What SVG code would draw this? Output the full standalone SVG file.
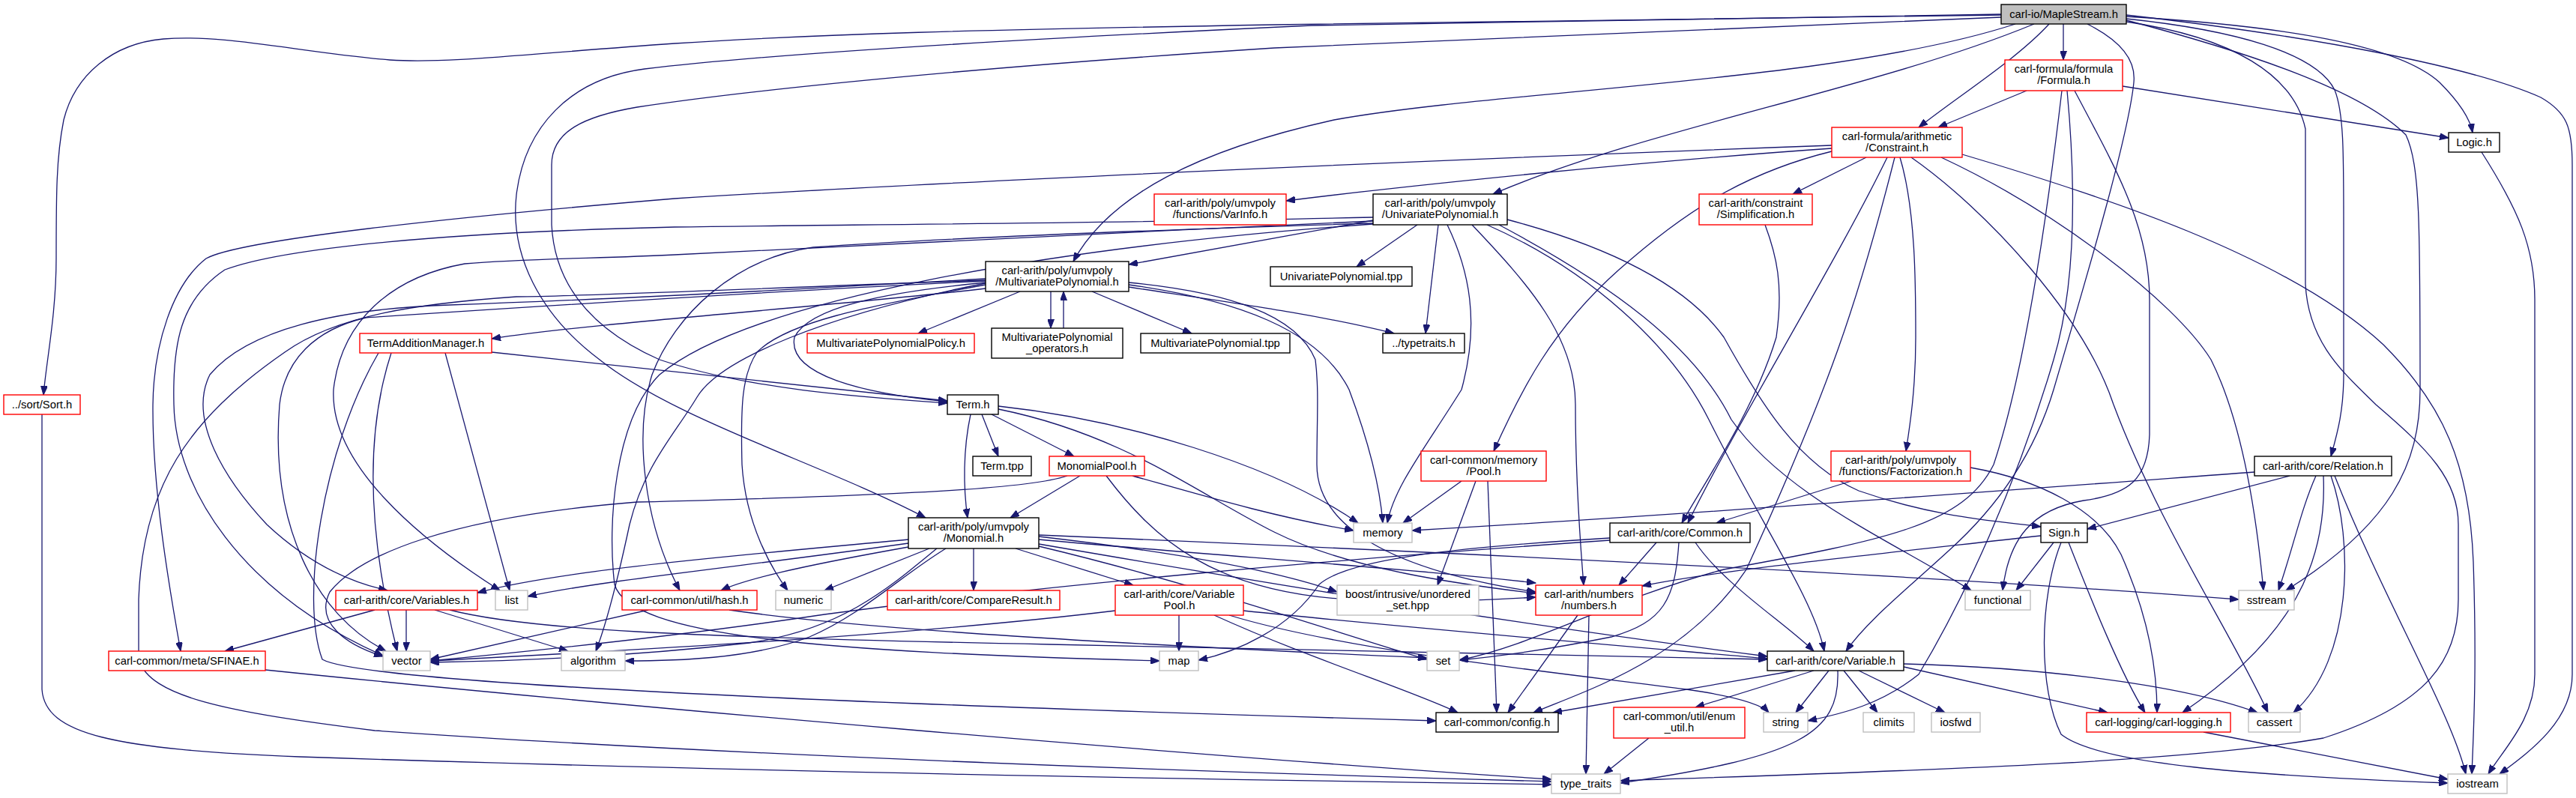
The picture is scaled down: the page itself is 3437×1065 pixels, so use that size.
<svg xmlns="http://www.w3.org/2000/svg" width="3437" height="1065" viewBox="0 0 3437 1065">
<style>
.bg{fill:#ffffff}
.e path{fill:none;stroke:#191970;stroke-width:1.3;marker-end:url(#arr)}
.n rect{fill:#ffffff;stroke-width:1.4}
.n.red rect{stroke:#ff0000}
.n.blk rect{stroke:#000000}
.n.gry rect{stroke:#bfbfbf}
.n.root rect{fill:#bfbfbf;stroke:#000000}
.n text{font-family:"Liberation Sans",Arial,sans-serif;font-size:14.8px;fill:#000000;text-anchor:middle}
</style>
<defs>
<marker id="arr" markerUnits="userSpaceOnUse" markerWidth="13" markerHeight="9" refX="12" refY="4.5" orient="auto">
<path d="M0,0 L12,4.5 L0,9 z" fill="#191970" stroke="#191970" stroke-width="1"/>
</marker>
</defs>
<rect class="bg" x="0" y="0" width="3437" height="1065"/>
<g id="connectors" class="e">
<path d="M2753,32 L2753,80"/>
<path d="M2734,32 C2690,80 2610,130 2560,170"/>
<path d="M2837,22 C3050,35 3200,60 3255,110 C3285,140 3296,160 3299,177"/>
<path d="M2832,115 L3267,184"/>
<path d="M2704,121 L2586,170"/>
<path d="M2714,32 C2500,120 2200,170 1992,259"/>
<path d="M2689,32 C2450,110 2000,120 1780,160 C1600,200 1480,260 1432,349"/>
<path d="M2670,20 L1700,33 C1300,40 1100,45 900,58 C700,72 600,85 520,80 C400,70 300,45 218,52 C150,58 100,100 85,160 C75,210 75,260 75,344 C75,420 62,480 58,527"/>
<path d="M2670,23 C2200,40 1900,55 1700,64 C1300,90 1000,120 850,143 C780,155 736,175 736,220 L736,300 C740,380 790,440 880,480 C1000,520 1150,530 1264,538"/>
<path d="M2670,19 L1750,34 C1300,55 1000,75 860,92 C760,105 700,170 689,260 C680,340 720,420 800,480 C900,560 1100,620 1235,691"/>
<path d="M2837,25 C2980,40 3090,70 3115,120 C3127,150 3127,200 3127,300 L3127,500 C3127,550 3118,580 3110,609"/>
<path d="M2837,27 C3000,70 3150,120 3210,180 C3229,220 3229,300 3229,520 C3229,620 3190,700 3050,788"/>
<path d="M2837,29 C2980,50 3060,100 3076,172 L3076,379 C3080,460 3130,500 3170,540 C3240,600 3280,640 3280,700 L3280,800 C3280,880 3240,940 3100,985 C2900,1020 2500,1030 2162,1042"/>
<path d="M2837,20 C3100,50 3300,90 3390,130 C3425,150 3432,170 3432,220 L3432,900 C3432,960 3380,1000 3335,1033"/>
<path d="M2785,32 C2830,55 2850,80 2847,110 C2840,180 2790,350 2740,520 C2710,620 2650,690 2600,735 C2540,790 2490,830 2463,869"/>
<path d="M2768,121 C2820,220 2868,300 2868,400 L2868,580 C2866,640 2840,660 2780,668 C2710,680 2680,720 2672,788"/>
<path d="M2751,121 C2730,300 2700,500 2660,620 C2620,700 2520,720 2300,760 C2150,800 2050,860 1947,881"/>
<path d="M2758,121 C2770,250 2770,380 2740,480 C2690,650 2620,800 2560,900 C2510,940 2460,952 2412,962"/>
<path d="M3311,203 C3360,280 3382,330 3382,400 L3382,900 C3382,960 3340,1000 3320,1033"/>
<path d="M2444,198 C2200,215 1900,245 1716,268"/>
<path d="M2444,194 C2000,210 1300,240 900,265 C600,290 320,320 275,345 C230,380 205,460 204,540 C203,650 225,780 241,869"/>
<path d="M2444,202 C2330,230 2250,280 2160,360 C2070,440 2030,520 1993,602"/>
<path d="M2490,210 L2392,259"/>
<path d="M2518,210 C2450,350 2320,560 2252,698"/>
<path d="M2528,210 C2480,400 2440,520 2330,760 C2250,880 2120,920 2046,951"/>
<path d="M2535,210 C2556,280 2556,380 2556,450 C2556,520 2548,570 2543,602"/>
<path d="M2550,210 C2650,280 2780,420 2820,540 C2880,700 2980,850 3026,951"/>
<path d="M2590,210 C2740,280 2900,400 2950,480 C2990,560 3010,680 3020,788"/>
<path d="M2618,206 C2800,260 3050,340 3180,460 C3260,540 3295,620 3300,750 C3305,900 3300,980 3298,1033"/>
<path d="M2355,300 C2370,340 2380,380 2370,450 C2340,550 2270,650 2244,698"/>
<path d="M2470,642 L2290,698"/>
<path d="M2629,624 C2720,640 2800,680 2830,740 C2870,830 2878,900 2878,951"/>
<path d="M1832,294 L1506,353"/>
<path d="M1891,300 L1810,356"/>
<path d="M1919,300 L1902,445"/>
<path d="M1931,300 C1960,360 1975,430 1950,520 C1900,600 1860,650 1851,698"/>
<path d="M1964,300 C2040,380 2102,450 2102,540 C2102,640 2108,720 2113,781"/>
<path d="M1984,300 C2120,360 2230,460 2280,560 C2350,700 2420,800 2434,869"/>
<path d="M2011,293 C2150,330 2250,380 2300,450 C2350,540 2400,620 2480,655 C2580,690 2660,695 2723,703"/>
<path d="M2000,300 C2150,380 2260,460 2310,560 C2380,660 2520,720 2630,788"/>
<path d="M1832,290 C1500,298 1100,300 900,303 C600,310 380,330 300,360 C240,400 230,460 232,540 C234,650 320,790 511,875"/>
<path d="M1832,295 C1500,310 1100,330 900,340 C800,345 700,345 620,352 C520,370 455,430 445,520 C440,620 560,720 667,788"/>
<path d="M1832,298 C1600,305 1300,315 1085,330 C980,345 900,420 870,500 C845,580 860,700 907,788"/>
<path d="M1832,299 C1400,330 1000,400 880,500 C820,560 810,700 820,780 C840,850 1100,870 1547,882"/>
<path d="M1315,385 C1100,410 800,430 656,452"/>
<path d="M1361,389 L1225,445"/>
<path d="M1402,389 L1402,438"/>
<path d="M1419,438 L1419,389"/>
<path d="M1457,389 L1590,445"/>
<path d="M1506,383 C1650,405 1760,420 1860,445"/>
<path d="M1315,377 C1180,390 1080,410 1060,450 C1050,500 1150,525 1264,536"/>
<path d="M1506,380 C1650,400 1760,440 1800,520 C1830,600 1842,660 1845,698"/>
<path d="M1506,377 C1640,390 1730,420 1755,480 C1760,520 1757,560 1757,620 C1757,700 1850,760 2049,790"/>
<path d="M1315,380 C1150,410 1050,430 1010,470 C990,500 988,540 990,620 C995,700 1030,760 1051,788"/>
<path d="M1315,378 C1100,420 960,480 930,530 C900,580 860,620 840,700 C825,770 810,830 795,869"/>
<path d="M1315,372 C1000,390 800,400 600,407 C450,412 330,440 280,500 C250,560 300,640 356,700 C420,760 480,780 517,788"/>
<path d="M1315,375 C1000,390 700,410 488,424 C420,440 380,480 373,540 C360,700 420,820 515,869"/>
<path d="M1315,374 C1000,385 800,395 689,396 C560,405 450,420 380,470 C250,560 190,650 185,800 L185,880 C200,930 300,950 500,975 C1000,1010 1600,1030 2070,1043"/>
<path d="M1310,553 L1332,609"/>
<path d="M1323,553 L1433,609"/>
<path d="M1295,553 C1285,600 1285,650 1291,691"/>
<path d="M1332,542 C1500,560 1700,620 1812,698"/>
<path d="M1332,546 C1500,580 1600,660 1700,710 C1800,760 1950,780 2049,792"/>
<path d="M1441,635 L1348,691"/>
<path d="M1511,635 C1600,660 1700,690 1806,708"/>
<path d="M1476,635 C1540,720 1620,790 1800,800 C1900,806 2000,800 2049,797"/>
<path d="M1424,635 C1380,650 1250,660 850,670 C600,690 480,740 440,790 C420,830 460,860 511,876"/>
<path d="M1950,642 L1872,698"/>
<path d="M1969,642 L1918,781"/>
<path d="M1985,642 L1997,951"/>
<path d="M3008,630 C2600,660 2200,690 1884,708"/>
<path d="M3055,635 L2785,706"/>
<path d="M3090,635 C3070,680 3060,730 3040,788"/>
<path d="M3100,635 C3105,750 3060,850 2912,951"/>
<path d="M3110,635 C3140,720 3140,880 3060,951"/>
<path d="M3115,635 C3180,800 3270,950 3290,1033"/>
<path d="M1212,720 C1000,740 750,760 637,791"/>
<path d="M1212,725 C1000,755 800,775 704,796"/>
<path d="M1212,730 C1100,750 1000,770 962,788"/>
<path d="M1240,732 L1100,788"/>
<path d="M1262,732 C1200,770 1150,820 1080,850 C1000,880 900,882 834,882"/>
<path d="M1299,732 L1299,788"/>
<path d="M1355,732 L1512,781"/>
<path d="M1386,716 C1550,735 1700,760 1784,790"/>
<path d="M1386,720 C1600,740 1900,760 2049,778"/>
<path d="M1386,714 C2000,740 2600,770 2987,800"/>
<path d="M1386,726 C1700,780 2000,830 2358,876"/>
<path d="M1386,729 C1600,780 1800,850 1904,880"/>
<path d="M1250,732 C1180,790 1120,840 1000,858 C850,875 700,882 574,884"/>
<path d="M500,814 L300,869"/>
<path d="M542,814 L542,869"/>
<path d="M580,814 L758,869"/>
<path d="M600,814 C700,840 900,850 1400,860 C1900,870 2200,875 2358,880"/>
<path d="M865,814 L574,880"/>
<path d="M973,814 C1150,840 1500,860 1904,878"/>
<path d="M1573,821 L1573,869"/>
<path d="M1488,815 C1200,850 800,870 574,882"/>
<path d="M1620,821 C1750,880 1880,920 1945,951"/>
<path d="M1659,815 C1900,840 2200,865 2358,879"/>
<path d="M1640,821 C1800,870 2100,900 2250,920 C2320,930 2350,940 2360,951"/>
<path d="M2210,724 L2160,781"/>
<path d="M2262,724 C2300,780 2380,830 2420,869"/>
<path d="M2240,724 C2235,800 2220,830 2150,850 C2050,870 1980,878 1947,881"/>
<path d="M2148,718 C1950,730 1800,745 1760,780 C1720,840 1650,870 1599,881"/>
<path d="M2148,721 C1800,745 1400,780 1100,820 C900,850 700,870 574,882"/>
<path d="M2740,724 L2690,788"/>
<path d="M2723,715 C2500,740 2300,760 2191,782"/>
<path d="M2760,724 C2790,800 2830,900 2862,951"/>
<path d="M2750,724 C2720,800 2720,920 2750,980 C2800,1020 3000,1035 3266,1045"/>
<path d="M2105,821 L2012,951"/>
<path d="M2120,821 L2116,1033"/>
<path d="M2420,895 L2262,944"/>
<path d="M2440,895 L2396,951"/>
<path d="M2460,895 L2505,951"/>
<path d="M2480,895 L2595,951"/>
<path d="M2540,890 L2812,951"/>
<path d="M2540,886 C2700,890 2900,910 3012,951"/>
<path d="M2395,895 L2072,951"/>
<path d="M2452,895 C2455,980 2400,1010 2162,1045"/>
<path d="M2200,985 L2140,1033"/>
<path d="M2940,977 L3266,1040"/>
<path d="M354,894 C800,940 1600,1010 2070,1040"/>
<path d="M56,553 L56,920 C60,980 150,1000 400,1010 C1000,1030 1600,1040 2070,1047"/>
<path d="M656,470 L1264,535"/>
<path d="M594,471 L680,788"/>
<path d="M522,471 C480,600 500,750 530,869"/>
<path d="M505,471 C430,600 400,800 430,880 C500,920 1500,950 1916,962"/>
</g>
<g id="node-maple" class="n root"><rect x="2670" y="6" width="167" height="26"/><text x="2753.5" y="24">carl-io/MapleStream.h</text></g>
<g id="node-formula" class="n red"><rect x="2675" y="80" width="157" height="41"/><text x="2753.5" y="97">carl-formula/formula</text><text x="2753.5" y="112">/Formula.h</text></g>
<g id="node-constraint" class="n red"><rect x="2444" y="170" width="174" height="40"/><text x="2531" y="187">carl-formula/arithmetic</text><text x="2531" y="202">/Constraint.h</text></g>
<g id="node-logic" class="n blk"><rect x="3267" y="177" width="68" height="26"/><text x="3301" y="195">Logic.h</text></g>
<g id="node-varinfo" class="n red"><rect x="1540" y="259" width="176" height="41"/><text x="1628" y="276">carl-arith/poly/umvpoly</text><text x="1628" y="291">/functions/VarInfo.h</text></g>
<g id="node-upoly" class="n blk"><rect x="1832" y="259" width="179" height="41"/><text x="1921.5" y="276">carl-arith/poly/umvpoly</text><text x="1921.5" y="291">/UnivariatePolynomial.h</text></g>
<g id="node-simpl" class="n red"><rect x="2267" y="259" width="151" height="41"/><text x="2342.5" y="276">carl-arith/constraint</text><text x="2342.5" y="291">/Simplification.h</text></g>
<g id="node-mpoly" class="n blk"><rect x="1315" y="349" width="191" height="40"/><text x="1410.5" y="366">carl-arith/poly/umvpoly</text><text x="1410.5" y="381">/MultivariatePolynomial.h</text></g>
<g id="node-uptpp" class="n blk"><rect x="1695" y="356" width="189" height="26"/><text x="1789.5" y="374">UnivariatePolynomial.tpp</text></g>
<g id="node-tam" class="n red"><rect x="480" y="445" width="176" height="26"/><text x="568" y="463">TermAdditionManager.h</text></g>
<g id="node-mppolicy" class="n red"><rect x="1077" y="445" width="223" height="26"/><text x="1188.5" y="463">MultivariatePolynomialPolicy.h</text></g>
<g id="node-mpops" class="n blk"><rect x="1323" y="438" width="175" height="40"/><text x="1410.5" y="455">MultivariatePolynomial</text><text x="1410.5" y="470">_operators.h</text></g>
<g id="node-mptpp" class="n blk"><rect x="1522" y="445" width="199" height="26"/><text x="1621.5" y="463">MultivariatePolynomial.tpp</text></g>
<g id="node-typetraits" class="n blk"><rect x="1845" y="445" width="109" height="26"/><text x="1899.5" y="463">../typetraits.h</text></g>
<g id="node-sort" class="n red"><rect x="5" y="527" width="102" height="26"/><text x="56" y="545">../sort/Sort.h</text></g>
<g id="node-term" class="n blk"><rect x="1264" y="527" width="68" height="26"/><text x="1298" y="545">Term.h</text></g>
<g id="node-termtpp" class="n blk"><rect x="1298" y="609" width="78" height="26"/><text x="1337" y="627">Term.tpp</text></g>
<g id="node-monpool" class="n red"><rect x="1400" y="609" width="127" height="26"/><text x="1463.5" y="627">MonomialPool.h</text></g>
<g id="node-pool" class="n red"><rect x="1896" y="602" width="167" height="40"/><text x="1979.5" y="619">carl-common/memory</text><text x="1979.5" y="634">/Pool.h</text></g>
<g id="node-fact" class="n red"><rect x="2443" y="602" width="186" height="40"/><text x="2536" y="619">carl-arith/poly/umvpoly</text><text x="2536" y="634">/functions/Factorization.h</text></g>
<g id="node-relation" class="n blk"><rect x="3008" y="609" width="183" height="26"/><text x="3099.5" y="627">carl-arith/core/Relation.h</text></g>
<g id="node-monomial" class="n blk"><rect x="1212" y="691" width="174" height="41"/><text x="1299" y="708">carl-arith/poly/umvpoly</text><text x="1299" y="723">/Monomial.h</text></g>
<g id="node-memory" class="n gry"><rect x="1806" y="698" width="78" height="26"/><text x="1845" y="716">memory</text></g>
<g id="node-common" class="n blk"><rect x="2148" y="698" width="187" height="26"/><text x="2241.5" y="716">carl-arith/core/Common.h</text></g>
<g id="node-sign" class="n blk"><rect x="2723" y="698" width="62" height="26"/><text x="2754" y="716">Sign.h</text></g>
<g id="node-variables" class="n red"><rect x="448" y="788" width="189" height="26"/><text x="542.5" y="806">carl-arith/core/Variables.h</text></g>
<g id="node-list" class="n gry"><rect x="661" y="788" width="43" height="26"/><text x="682.5" y="806">list</text></g>
<g id="node-hash" class="n red"><rect x="830" y="788" width="180" height="26"/><text x="920" y="806">carl-common/util/hash.h</text></g>
<g id="node-numeric" class="n gry"><rect x="1035" y="788" width="74" height="26"/><text x="1072" y="806">numeric</text></g>
<g id="node-compare" class="n red"><rect x="1184" y="788" width="230" height="26"/><text x="1299" y="806">carl-arith/core/CompareResult.h</text></g>
<g id="node-varpool" class="n red"><rect x="1488" y="781" width="171" height="40"/><text x="1573.5" y="798">carl-arith/core/Variable</text><text x="1573.5" y="813">Pool.h</text></g>
<g id="node-boost" class="n gry"><rect x="1784" y="781" width="189" height="40"/><text x="1878.5" y="798">boost/intrusive/unordered</text><text x="1878.5" y="813">_set.hpp</text></g>
<g id="node-numbers" class="n red"><rect x="2049" y="781" width="142" height="40"/><text x="2120" y="798">carl-arith/numbers</text><text x="2120" y="813">/numbers.h</text></g>
<g id="node-functional" class="n gry"><rect x="2622" y="788" width="87" height="26"/><text x="2665.5" y="806">functional</text></g>
<g id="node-sstream" class="n gry"><rect x="2987" y="788" width="74" height="26"/><text x="3024" y="806">sstream</text></g>
<g id="node-sfinae" class="n red"><rect x="145" y="869" width="209" height="26"/><text x="249.5" y="887">carl-common/meta/SFINAE.h</text></g>
<g id="node-vector" class="n gry"><rect x="511" y="869" width="63" height="26"/><text x="542.5" y="887">vector</text></g>
<g id="node-algorithm" class="n gry"><rect x="749" y="869" width="85" height="26"/><text x="791.5" y="887">algorithm</text></g>
<g id="node-map" class="n gry"><rect x="1547" y="869" width="52" height="26"/><text x="1573" y="887">map</text></g>
<g id="node-set" class="n gry"><rect x="1904" y="869" width="43" height="26"/><text x="1925.5" y="887">set</text></g>
<g id="node-variable" class="n blk"><rect x="2358" y="869" width="182" height="26"/><text x="2449" y="887">carl-arith/core/Variable.h</text></g>
<g id="node-config" class="n blk"><rect x="1916" y="951" width="163" height="26"/><text x="1997.5" y="969">carl-common/config.h</text></g>
<g id="node-enum" class="n red"><rect x="2153" y="944" width="175" height="41"/><text x="2240.5" y="961">carl-common/util/enum</text><text x="2240.5" y="976">_util.h</text></g>
<g id="node-string" class="n gry"><rect x="2353" y="951" width="59" height="26"/><text x="2382.5" y="969">string</text></g>
<g id="node-climits" class="n gry"><rect x="2486" y="951" width="68" height="26"/><text x="2520" y="969">climits</text></g>
<g id="node-iosfwd" class="n gry"><rect x="2577" y="951" width="65" height="26"/><text x="2609.5" y="969">iosfwd</text></g>
<g id="node-logging" class="n red"><rect x="2784" y="951" width="192" height="26"/><text x="2880" y="969">carl-logging/carl-logging.h</text></g>
<g id="node-cassert" class="n gry"><rect x="3000" y="951" width="69" height="26"/><text x="3034.5" y="969">cassert</text></g>
<g id="node-typetr" class="n gry"><rect x="2070" y="1033" width="92" height="26"/><text x="2116" y="1051">type_traits</text></g>
<g id="node-iostream" class="n gry"><rect x="3266" y="1033" width="79" height="26"/><text x="3305.5" y="1051">iostream</text></g>
</svg>
